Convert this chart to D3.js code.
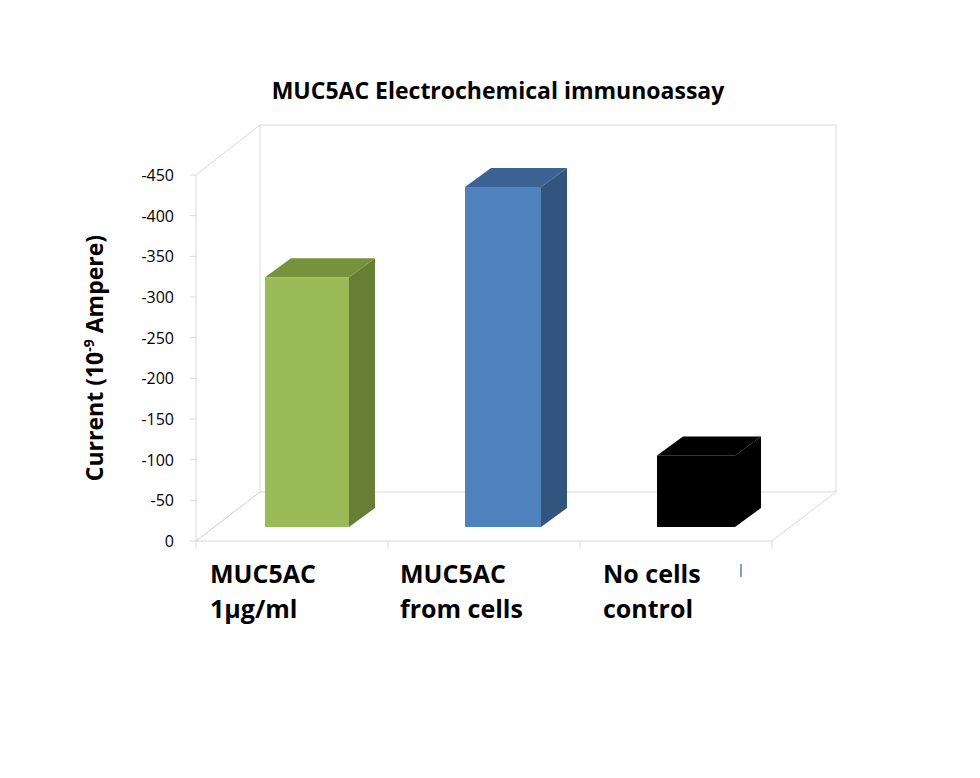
<!DOCTYPE html><html><head><meta charset="utf-8">
<script src="https://cdn.jsdelivr.net/npm/d3@7"></script>
<style>body{margin:0;background:#fff}text{font-family:"Open Sans",sans-serif}</style></head><body>
<svg id="c" width="980" height="778"></svg>
<script>
const categories=[["MUC5AC","1µg/ml"],["MUC5AC","from cells"],["No cells","control"]];
const values=[-307,-418,-88];
const ticks=[0,-50,-100,-150,-200,-250,-300,-350,-400,-450];
const colors=[["#9bbb59","#76923c","#667f34"],["#4f81bd","#3c6394","#32557f"],["#000","#000","#000"]];
const svg=d3.select("#c");
const y=d3.scaleLinear().domain([0,-450]).range([541,175]);
const x=d3.scaleBand().domain([0,1,2]).range([196,772]).paddingInner(0.06).paddingOuter(0.03);
const DX=64,DY=-49; // wall depth
const g="#d9d9d9";
// walls
const wall=[[196,y(0)],[196+DX,y(0)+DY],[196+DX,125],[196,y(-450)]];
svg.append("path").attr("d",d3.line()(wall)).attr("fill","none").attr("stroke",g);
svg.append("path").attr("d",d3.line()([[260,125],[836,125],[836,492]])).attr("fill","none").attr("stroke",g);
svg.append("path").attr("d",d3.line()([[196,541],[260,492],[836,492],[772,541]])).attr("fill","none").attr("stroke",g);
svg.append("line").attr("x1",196).attr("x2",772).attr("y1",541).attr("y2",541).attr("stroke",g);
svg.append("line").attr("x1",196).attr("x2",196).attr("y1",541).attr("y2",175).attr("stroke",g);
ticks.forEach(t=>{
 svg.append("line").attr("x1",190).attr("x2",196).attr("y1",y(t)).attr("y2",y(t)).attr("stroke",g);
 svg.append("text").attr("x",174).attr("y",y(t)+6).attr("text-anchor","end").attr("font-size",16).text(t);
});
[0,1,2,3].forEach(i=>{const xx=196+i*192;svg.append("line").attr("x1",xx).attr("x2",xx).attr("y1",541).attr("y2",548).attr("stroke",g);});
// bars
const fx=[265,465,657],fw=[84,76,78];
const dx=26,dy=-19,base=527,k=(541-y(-50))/50;
values.forEach((v,i)=>{
 const x0=fx[i],w=fw[i],top=base-(-v)*k;
 const c=colors[i];
 svg.append("rect").attr("x",x0).attr("y",top).attr("width",w).attr("height",base-top).attr("fill",c[0]);
 svg.append("path").attr("d",d3.line()([[x0+w,base],[x0+w+dx,base+dy],[x0+w+dx,top+dy],[x0+w,top]])).attr("fill",c[2]);
 svg.append("path").attr("d",d3.line()([[x0,top],[x0+dx,top+dy],[x0+w+dx,top+dy],[x0+w,top]])).attr("fill",c[1]);
 const lx=[210,400,603][i];
 categories[i].forEach((s,j)=>svg.append("text").attr("x",lx).attr("y",583+j*35).attr("font-size",25).attr("font-weight","bold").text(s));
});
svg.append("line").attr("x1",741).attr("x2",741).attr("y1",564).attr("y2",577).attr("stroke","#4f81bd").attr("stroke-width",1.5);
svg.append("text").attr("x",498).attr("y",99).attr("text-anchor","middle").attr("font-size",23).attr("font-weight","bold").text("MUC5AC Electrochemical immunoassay");
const yl=svg.append("text").attr("transform","translate(103,358) rotate(-90)").attr("text-anchor","middle").attr("font-size",23).attr("font-weight","bold");
yl.append("tspan").text("Current (10");
yl.append("tspan").attr("font-size",14).attr("dy",-9).text("-9");
yl.append("tspan").attr("dy",9).text(" Ampere)");
</script></body></html>
